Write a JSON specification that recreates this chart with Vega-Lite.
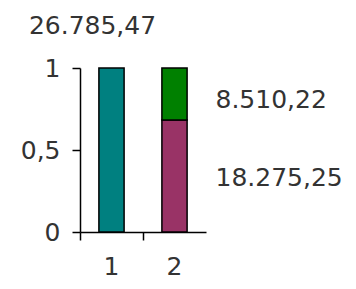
{
  "$schema": "https://vega.github.io/schema/vega-lite/v6.json",
  "width": 126,
  "height": 164,
  "autosize": {"type": "none"},
  "padding": {"left": 80, "top": 68, "right": 150, "bottom": 57},
  "background": "#ffffff",
  "config": {"view": {"stroke": null}, "font": "DejaVu Sans"},
  "data": {"values": [
    {"cat": "1", "series": "Gesamt", "value": 26785.47, "label": "26.785,47"},
    {"cat": "2", "series": "A", "value": 18275.25, "label": "18.275,25"},
    {"cat": "2", "series": "B", "value": 8510.22, "label": "8.510,22"}
  ]},
  "encoding": {
    "x": {"field": "cat", "type": "nominal", "sort": null,
      "scale": {"paddingInner": 0, "paddingOuter": 0},
      "axis": {"title": null, "labelAngle": 0, "bandPosition": 0, "domainColor": "#000", "domainWidth": 1.5, "tickColor": "#000", "tickWidth": 1.5, "tickSize": 8, "labelFontSize": 25, "labelColor": "#333", "labelPadding": 14}},
    "y": {"field": "value", "type": "quantitative", "stack": "normalize",
      "scale": {"domain": [0, 1], "nice": false},
      "axis": {"title": null, "values": [0, 0.5, 1], "labelExpr": "replace(toString(datum.value), '.', ',')", "grid": false, "domainColor": "#000", "domainWidth": 1.5, "tickColor": "#000", "tickWidth": 1.5, "tickSize": 8, "labelFontSize": 25, "labelColor": "#333", "labelPadding": 12}},
    "order": {"field": "series", "sort": "ascending"}
  },
  "layer": [
    {"mark": {"type": "bar", "width": {"band": 0.4}, "stroke": "#000", "strokeWidth": 1.5},
     "encoding": {"color": {"field": "series", "type": "nominal", "legend": null,
       "scale": {"domain": ["Gesamt", "A", "B"], "range": ["#008080", "#993366", "#008000"]}}}},
    {"transform": [{"filter": "datum.series == 'Gesamt'"}],
     "mark": {"type": "text", "align": "center", "baseline": "alphabetic", "dx": -19, "dy": -34, "fontSize": 25, "color": "#333"},
     "encoding": {"text": {"field": "label"}}},
    {"transform": [{"filter": "datum.series == 'B'"}],
     "mark": {"type": "text", "align": "left", "baseline": "middle", "dx": 41, "dy": 32, "fontSize": 25, "color": "#333"},
     "encoding": {"text": {"field": "label"}}},
    {"transform": [{"filter": "datum.series == 'A'"}],
     "mark": {"type": "text", "align": "left", "baseline": "middle", "dx": 41, "dy": 110, "fontSize": 25, "color": "#333"},
     "encoding": {"text": {"field": "label"}}}
  ]
}
